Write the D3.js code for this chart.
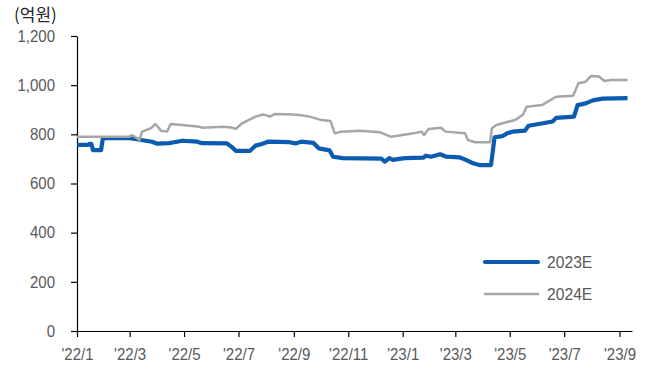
<!DOCTYPE html>
<html>
<head>
<meta charset="utf-8">
<script src="https://cdn.jsdelivr.net/npm/d3@7"></script>
<style>
  html, body { margin: 0; padding: 0; background: #fff; }
  svg { display: block; }
  text { font-family: "Liberation Sans", Arial, sans-serif; }
</style>
</head>
<body>
<svg id="chart" width="651" height="371"></svg>
<script>
// ---- data ----
const seriesNames = ["2023E", "2024E"];
const unitLabel = "(억원)";
const yTicks = [0, 200, 400, 600, 800, 1000, 1200];
const xTickDates = ["2022-01-01","2022-03-01","2022-05-01","2022-07-01","2022-09-01","2022-11-01",
                    "2023-01-01","2023-03-01","2023-05-01","2023-07-01","2023-09-01"];
const xTickLabels = ["'22/1","'22/3","'22/5","'22/7","'22/9","'22/11","'23/1","'23/3","'23/5","'23/7","'23/9"];

const dates2023E = ["2022-01-01","2022-01-14","2022-01-15","2022-01-17","2022-01-19","2022-01-28","2022-01-30",
  "2022-03-01","2022-03-09","2022-03-14","2022-03-26","2022-04-01","2022-04-14","2022-04-20","2022-04-29",
  "2022-05-16","2022-05-21","2022-06-18","2022-06-23","2022-06-28","2022-07-14","2022-07-20","2022-07-26",
  "2022-07-31","2022-08-03","2022-08-27","2022-09-03","2022-09-09","2022-09-23","2022-09-29","2022-10-11",
  "2022-10-15","2022-10-26","2022-12-08","2022-12-12","2022-12-17","2022-12-21","2022-12-28","2023-01-04",
  "2023-01-24","2023-01-27","2023-02-02","2023-02-12","2023-02-19","2023-03-06","2023-03-13","2023-03-21",
  "2023-03-28","2023-04-10","2023-04-14","2023-04-23","2023-04-28","2023-05-04","2023-05-18","2023-05-22",
  "2023-06-04","2023-06-18","2023-06-22","2023-07-12","2023-07-16","2023-07-25","2023-08-02","2023-08-13",
  "2023-09-10"];
const values2023E = [757,757,761,761,736,736,784,
  784,780,777,770,762,764,768,774,
  770,764,763,750,733,733,754,760,
  766,770,768,763,770,765,743,735,
  709,703,701,689,703,696,700,703,
  705,713,709,719,709,706,696,682,
  675,675,788,793,804,811,815,835,
  843,852,867,872,919,926,938,945,
  947];

const dates2024E = ["2022-01-01","2022-03-01","2022-03-03","2022-03-07","2022-03-12","2022-03-15","2022-03-25",
  "2022-03-30","2022-04-05","2022-04-12","2022-04-16","2022-04-29","2022-05-18","2022-05-22","2022-06-14",
  "2022-06-23","2022-06-28","2022-07-05","2022-07-20","2022-07-29","2022-08-05","2022-08-11","2022-08-31",
  "2022-09-07","2022-09-19","2022-10-02","2022-10-12","2022-10-17","2022-10-24","2022-11-14","2022-12-07",
  "2022-12-19","2023-01-01","2023-01-13","2023-01-22","2023-01-25","2023-01-30","2023-02-13","2023-02-18",
  "2023-03-12","2023-03-15","2023-03-23","2023-04-09","2023-04-11","2023-04-16","2023-04-27","2023-05-07",
  "2023-05-16","2023-05-20","2023-06-06","2023-06-22","2023-07-11","2023-07-17","2023-07-25","2023-07-31",
  "2023-08-09","2023-08-15","2023-08-23","2023-09-10"];
const values2024E = [790,790,797,790,777,811,825,
  842,815,811,842,838,831,827,831,
  828,822,845,872,881,872,883,881,
  879,872,858,854,804,811,815,808,
  790,797,804,811,797,822,827,811,
  804,777,768,768,825,838,849,858,
  881,912,919,953,957,1008,1014,1037,
  1035,1017,1021,1021];

// ---- chart ----
const parse = d3.utcParse("%Y-%m-%d");
const svg = d3.select("#chart");

const x = d3.scaleUtc()
  .domain([parse("2022-01-01"), parse("2023-09-15")])
  .range([77, 632]);
const y = d3.scaleLinear().domain([0, 1200]).range([331, 36]);

const labelColor = "#595959";
const fontSize = "16.5px";
const squeeze = 0.91;

// Y axis
const yAxis = svg.append("g")
  .attr("transform", "translate(77,0)")
  .call(d3.axisLeft(y).tickValues(yTicks).tickSize(6).tickPadding(16)
    .tickFormat(d3.format(",")).tickSizeOuter(0));
yAxis.select(".domain").attr("stroke", "#000").attr("stroke-width", 1.2);
yAxis.selectAll(".tick line").attr("stroke", "#000").attr("stroke-width", 1.2);
yAxis.selectAll(".tick text").each(function() {
  const t = d3.select(this);
  const tx = +t.attr("x");
  t.attr("x", 0).attr("transform", `translate(${tx},0) scale(${squeeze},1)`);
}).attr("fill", labelColor)
  .style("font-size", fontSize).style("font-family", "'Liberation Sans', Arial, sans-serif");

// X axis
const xAxis = svg.append("g")
  .attr("transform", "translate(0,331)")
  .call(d3.axisBottom(x).tickValues(xTickDates.map(parse)).tickSize(6).tickPadding(11)
    .tickFormat((d, i) => xTickLabels[i]).tickSizeOuter(0));
xAxis.select(".domain").attr("stroke", "#000").attr("stroke-width", 1.2);
xAxis.selectAll(".tick line").attr("stroke", "#000").attr("stroke-width", 1.2);
xAxis.selectAll(".tick text").each(function() {
  const t = d3.select(this);
  const ty = +t.attr("y");
  t.attr("y", 0).attr("transform", `translate(0,${ty}) scale(${squeeze},1)`);
}).attr("fill", labelColor)
  .style("font-size", fontSize).style("font-family", "'Liberation Sans', Arial, sans-serif");

// Unit label
svg.append("text")
  .attr("x", 14).attr("y", 21)
  .attr("fill", "#262626")
  .style("font-size", "17px")
  .style("font-family", "'Noto Sans CJK KR', 'Liberation Sans', sans-serif")
  .text(unitLabel);

// Lines
const line = d3.line().x(d => x(d[0])).y(d => y(d[1]));
const s2023 = dates2023E.map((d, i) => [parse(d), values2023E[i]]);
const s2024 = dates2024E.map((d, i) => [parse(d), values2024E[i]]);

const colors = ["#0b5bb0", "#a6a6a6"];
const widths = [4.2, 2.5];

svg.append("path").datum(s2023)
  .attr("fill", "none").attr("stroke", colors[0]).attr("stroke-width", widths[0])
  .attr("stroke-linejoin", "round").attr("d", line);
svg.append("path").datum(s2024)
  .attr("fill", "none").attr("stroke", colors[1]).attr("stroke-width", widths[1])
  .attr("stroke-linejoin", "round").attr("d", line);

// Legend
const legend = svg.append("g");
seriesNames.forEach((name, i) => {
  const ly = 262 + i * 32;
  legend.append("line")
    .attr("x1", 485).attr("x2", 538).attr("y1", ly).attr("y2", ly)
    .attr("stroke", colors[i]).attr("stroke-width", widths[i]).attr("stroke-linecap", "round");
  legend.append("text")
    .attr("x", 0).attr("y", 0).attr("dy", "0.35em")
    .attr("transform", `translate(547,${ly}) scale(0.95,1)`)
    .attr("fill", labelColor).style("font-size", fontSize)
    .text(name);
});
</script>
</body>
</html>
